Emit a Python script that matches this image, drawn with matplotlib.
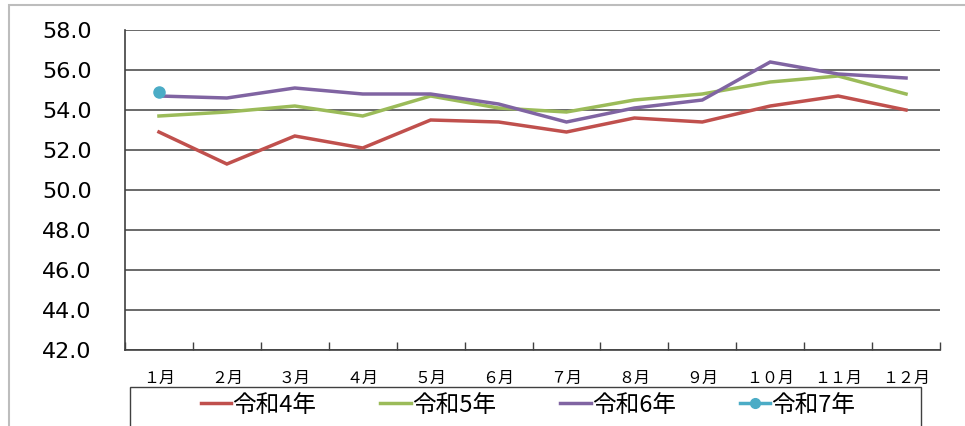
import matplotlib
matplotlib.use("Agg")
import matplotlib.pyplot as plt
import numpy as np
from matplotlib.patches import Rectangle
from matplotlib.lines import Line2D

plt.rcParams['font.family'] = ['DejaVu Sans', 'Noto Sans CJK JP']

# === data ===
months = ["１月", "２月", "３月", "４月", "５月", "６月",
          "７月", "８月", "９月", "１０月", "１１月", "１２月"]
r4 = [52.9, 51.3, 52.7, 52.1, 53.5, 53.4, 52.9, 53.6, 53.4, 54.2, 54.7, 54.0]
r5 = [53.7, 53.9, 54.2, 53.7, 54.7, 54.1, 53.9, 54.5, 54.8, 55.4, 55.7, 54.8]
r6 = [54.7, 54.6, 55.1, 54.8, 54.8, 54.3, 53.4, 54.1, 54.5, 56.4, 55.8, 55.6]
r7 = [54.9]
series_names = ["令和4年", "令和5年", "令和6年", "令和7年"]
colors = ["#C0504D", "#9BBB59", "#8064A2", "#4BACC6"]
yticks = [42.0, 44.0, 46.0, 48.0, 50.0, 52.0, 54.0, 56.0, 58.0]

# === figure ===
fig = plt.figure(figsize=(9.65, 4.26), dpi=100)
W, H = 965, 426
ax = fig.add_axes([125 / W, 1 - 350 / H, (940 - 125) / W, (350 - 30) / H])

# outer frame of the chart
fig.patches.append(Rectangle((9 / W, -0.2), 1.2, 1 - 5 / H + 0.2,
                             transform=fig.transFigure, fill=False,
                             edgecolor="#BDBDBD", linewidth=1.5))

x = np.arange(len(months))
lw = 2.5
ax.plot(x, r4, color=colors[0], lw=lw, solid_joinstyle="miter")
ax.plot(x, r5, color=colors[1], lw=lw, solid_joinstyle="miter")
ax.plot(x, r6, color=colors[2], lw=lw, solid_joinstyle="miter")
ax.plot(x[:len(r7)], r7, color=colors[3], lw=lw, marker="o", markersize=8)

ax.set_xlim(-0.5, 11.5)
ax.set_ylim(42, 58)
ax.set_yticks(yticks)
ax.set_yticklabels([f"{v:.1f}" for v in yticks], fontsize=16)
ax.tick_params(axis="y", length=0, pad=24)

ax.set_xticks(x)
ax.set_xticklabels(months, fontsize=11.5, family=['Noto Sans CJK JP'])
ax.set_xticks(np.arange(-0.5, 12, 1), minor=True)
ax.tick_params(axis="x", which="major", length=0, pad=14)
ax.tick_params(axis="x", which="minor", direction="in", length=6,
               color="#404040", width=1)

ax.grid(axis="y", color="#505050", linewidth=1.2)
ax.set_axisbelow(True)
for s in ["top", "right"]:
    ax.spines[s].set_visible(False)
for s in ["left", "bottom"]:
    ax.spines[s].set_color("#404040")
    ax.spines[s].set_linewidth(1.2)

# === legend ===
fig.patches.append(Rectangle((130 / W, -0.2), (921 - 130) / W, 0.2 + 1 - 387 / H,
                             transform=fig.transFigure, fill=False,
                             edgecolor="#404040", linewidth=1))
handles = [Line2D([], [], color=c, lw=lw) for c in colors[:3]]
handles.append(Line2D([], [], color=colors[3], lw=lw, marker="o", markersize=7))
fig.legend(handles, series_names, loc="center", ncol=4,
           bbox_to_anchor=(528 / W, 1 - 405 / H), frameon=False,
           prop={"family": ["Noto Sans CJK JP"], "size": 17},
           handlelength=1.3, handletextpad=0.05, columnspacing=2.7,
           borderpad=0, borderaxespad=0)

fig.savefig("out.png", dpi=100)
